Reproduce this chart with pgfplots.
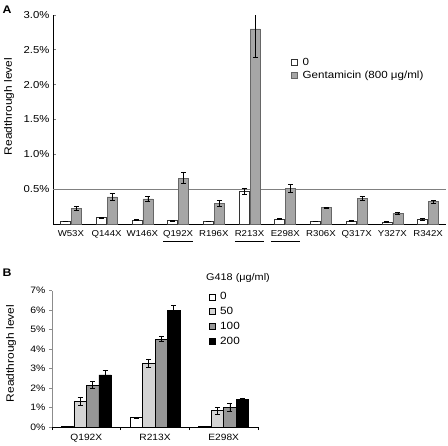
\documentclass[border=0pt]{standalone}
\usepackage{fontspec}
\setmainfont[FakeStretch=1.12]{Liberation Sans}
\usepackage{pgfplots}
\pgfplotsset{compat=1.18}
\usepackage{pgfplotstable}

\definecolor{gent}{RGB}{166,166,166}
\definecolor{gfifty}{RGB}{212,212,212}
\definecolor{ghund}{RGB}{150,150,150}
\newcommand\ul[1]{\underline{#1\rule[-3.5bp]{0pt}{0pt}}}
\newcommand\fs[1]{\fontsize{#1bp}{#1bp}\selectfont}

\pgfplotsset{
    errb/.style={
        error bars/y dir=both, error bars/y explicit,
        error bars/error bar style={black, line width=0.6bp},
        error bars/error mark options={rotate=90, mark size=2.5bp, black, line width=0.6bp},
    },
}

% panel A: readthrough per mutation, untreated vs gentamicin
\pgfplotstableread{
x  w     we     g      ge
0  0.040 0.005  0.225  0.030
1  0.090 0.005  0.390  0.050
2  0.060 0.005  0.360  0.040
3  0.050 0.005  0.660  0.080
4  0.040 0.005  0.300  0.040
5  0.470 0.040  2.800  0.400
6  0.070 0.005  0.510  0.060
7  0.040 0.005  0.235  0.008
8  0.045 0.008  0.370  0.030
9  0.030 0.008  0.155  0.015
10 0.070 0.010  0.320  0.020
}\dataA

% panel B: G418 dose
\pgfplotstableread{
x  a     ae    b     be    c     ce    d     de
0  0.03  0.01  1.33  0.20  2.15  0.18  2.67  0.22
1  0.48  0.02  3.27  0.22  4.50  0.13  6.00  0.22
2  0.02  0.01  0.84  0.18  1.00  0.20  1.42  0.07
}\dataB

\begin{document}
\begin{tikzpicture}
\useasboundingbox (0,0) rectangle (448bp,-446bp);

\node[font=\fs{11}\bfseries] at (7bp,-10bp) {A};
\node[font=\fs{11}\bfseries] at (7bp,-273bp) {B};
\node[rotate=90, font=\fs{10.7}] at (9bp,-106.5bp) {Readthrough level};
\node[rotate=90, font=\fs{10.7}] at (11bp,-353.5bp) {Readthrough level};
\node[anchor=west, font=\fs{9.7}, inner sep=0pt] at (206bp,-278bp) {G418 (μg/ml)};

\begin{axis}[
    at={(53bp,-224bp)}, anchor=south west,
    scale only axis, width=393bp, height=209bp,
    ybar=1bp, bar width=10bp,
    xmin=-0.5, xmax=10.5, ymin=0, ymax=3,
    axis lines*=left, axis line style={-, line width=0.8bp},
    xtick={0,...,10},
    xticklabels={W53X,Q144X,W146X,{\ul{Q192X}},R196X,{\ul{R213X}},{\ul{E298X}},R306X,Q317X,Y327X,R342X},
    x tick style={draw=none},
    xticklabel style={font=\fs{8.6}, yshift=-2.5bp},
    ytick={0.5,1.0,1.5,2.0,2.5,3.0},
    yticklabel={\pgfmathprintnumber[fixed,fixed zerofill,precision=1]{\tick}\%},
    yticklabel style={font=\fs{10.1}},
    /pgf/number format/assume math mode=true,
    tick align=inside, major tick length=3bp,
    y tick style={line width=0.8bp},
    extra y ticks={0.5}, extra y tick labels={},
    extra y tick style={grid=major, major grid style={black!50, line width=0.6bp}},
    legend style={at={(0.598,0.81)}, anchor=north west, draw=none, fill=none,
        font=\fs{10.35}, row sep=2.5bp, nodes={inner sep=1bp}},
    legend cell align=left,
    legend image code/.code={\draw[#1, line width=0.5bp] (0bp,-3bp) rectangle (6bp,3bp); \path (10bp,0bp);},
]
\addplot[fill=white, draw=black!80, line width=0.5bp, errb]
    table[x=x, y=w, y error=we] {\dataA};
\addlegendentry{0}
\addplot[fill=gent, draw=black!60, line width=0.5bp, errb]
    table[x=x, y=g, y error=ge] {\dataA};
\addlegendentry{Gentamicin (800 μg/ml)}
\end{axis}

\begin{axis}[
    at={(52bp,-427bp)}, anchor=south west,
    scale only axis, width=206bp, height=136.5bp,
    ybar=0bp, bar width=12.5bp,
    xmin=-0.5, xmax=2.5, ymin=0, ymax=7,
    axis lines*=left, axis line style={-},
    x axis line style={line width=0.8bp},
    y axis line style={black!45},
    xtick={-0.5,0.5,1.5,2.5}, xticklabels={},
    extra x ticks={0,1,2}, extra x tick labels={Q192X,R213X,E298X},
    extra x tick style={major tick length=0pt},
    xticklabel style={font=\fs{9.1}, yshift=-3.5bp},
    x tick style={line width=0.8bp, black},
    ytick={0,...,7},
    yticklabel={\pgfmathprintnumber{\tick}\%},
    yticklabel style={font=\fs{9.3}},
    /pgf/number format/assume math mode=true,
    y tick style={black!45},
    tick align=outside, major tick length=3bp,
    legend style={at={(0.745,1.01)}, anchor=north west, draw=none, fill=none,
        font=\fs{10.5}, row sep=4bp, nodes={inner sep=1bp}},
    legend cell align=left,
    legend image code/.code={\draw[#1, line width=0.5bp] (0bp,-3bp) rectangle (6bp,3bp); \path (10bp,0bp);},
]
\addplot[fill=white, draw=black, line width=0.6bp, errb]
    table[x=x, y=a, y error=ae] {\dataB};
\addlegendentry{0}
\addplot[fill=gfifty, draw=black, line width=0.6bp, errb]
    table[x=x, y=b, y error=be] {\dataB};
\addlegendentry{50}
\addplot[fill=ghund, draw=black, line width=0.6bp, errb]
    table[x=x, y=c, y error=ce] {\dataB};
\addlegendentry{100}
\addplot[fill=black, draw=black, line width=0.6bp, errb]
    table[x=x, y=d, y error=de] {\dataB};
\addlegendentry{200}
\end{axis}
\end{tikzpicture}
\end{document}
